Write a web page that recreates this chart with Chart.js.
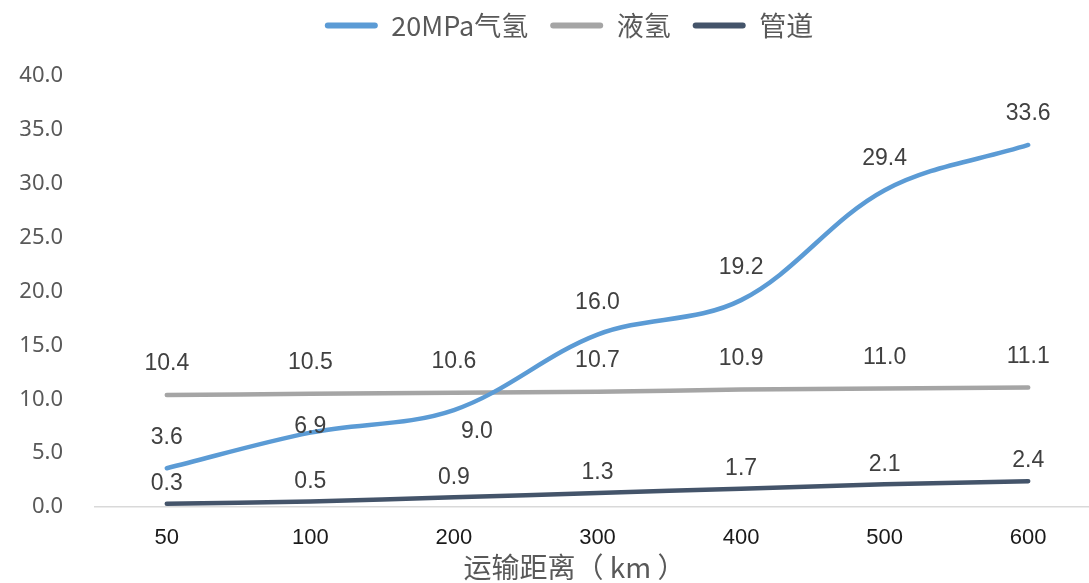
<!DOCTYPE html>
<html>
<head>
<meta charset="utf-8">
<script src="https://cdn.jsdelivr.net/npm/chart.js@4.4.1/dist/chart.umd.min.js"></script>
<style>
  html, body { margin: 0; padding: 0; background: #fff; overflow: hidden; }
  #wrap { width: 1100px; height: 583px; }
</style>
</head>
<body>
<div id="wrap"><canvas id="costChart"></canvas></div>
<script>
// 运输距离 (km)
const distances = ["50", "100", "200", "300", "400", "500", "600"];

// 运输成本 by mode
const gas20MPa = [3.6, 6.9, 9.0, 16.0, 19.2, 29.4, 33.6];
const liquidH2 = [10.4, 10.5, 10.6, 10.7, 10.9, 11.0, 11.1];
const pipeline = [0.3, 0.5, 0.9, 1.3, 1.7, 2.1, 2.4];

const yTicks = [0, 5, 10, 15, 20, 25, 30, 35, 40];
const xTitle = "运输距离（ km ）";

// label nudges relative to each point (px), like hand-moved labels in Excel
const gasLabelShift = [[0, -31], [0, -6], [23, 22], [0, -32], [0, -32], [0, -32], [0, -31]];
const liquidLabelShift = [0, -31];
const pipeLabelShift = [0, -20];

// Draw value labels next to points
const valueLabels = {
  id: "valueLabels",
  afterDatasetsDraw(chart) {
    const ctx = chart.ctx;
    ctx.save();
    ctx.font = "23px 'Liberation Sans', Arial, sans-serif";
    ctx.fillStyle = "#404040";
    ctx.textAlign = "center";
    ctx.textBaseline = "middle";
    chart.data.datasets.forEach((ds, i) => {
      const meta = chart.getDatasetMeta(i);
      meta.data.forEach((pt, j) => {
        const shift = Array.isArray(ds.labelShift[j]) ? ds.labelShift[j] : ds.labelShift;
        ctx.fillText(ds.data[j].toFixed(1), pt.x + shift[0], pt.y + shift[1]);
      });
    });
    ctx.restore();
  },
};

// Axis title sits a bit left of the plot centre in the original
const axisTitle = {
  id: "axisTitle",
  afterDraw(chart) {
    const { ctx, chartArea } = chart;
    ctx.save();
    ctx.font = "28px 'Noto Sans CJK SC', sans-serif";
    ctx.fillStyle = "#595959";
    ctx.textAlign = "center";
    ctx.textBaseline = "middle";
    ctx.fillText(xTitle, (chartArea.left + chartArea.right) / 2 - 23, 567);
    ctx.restore();
  },
};

// Leave room under the legend so the plot starts at the right height,
// and nudge it right to sit over the plot like the original
const legendRoom = {
  id: "legendRoom",
  beforeInit(chart) {
    const fit = chart.legend.fit;
    chart.legend.fit = function () {
      fit.call(this);
      this.height = 86;
    };
  },
  afterLayout(chart) {
    chart.legend.left += 19;
    chart.legend.right += 19;
  },
};

function makeSet(label, data, color, shift) {
  return {
    label,
    data,
    borderColor: color,
    backgroundColor: color,
    borderWidth: 4.5,
    borderCapStyle: "round",
    borderJoinStyle: "round",
    pointRadius: 0,
    pointHoverRadius: 0,
    tension: 0.35,
    fill: false,
    clip: false,
    labelShift: shift,
  };
}

const ctx = document.getElementById("costChart").getContext("2d");
new Chart(ctx, {
  type: "line",
  data: {
    labels: distances,
    datasets: [
      makeSet("20MPa气氢", gas20MPa, "#5B9BD5", gasLabelShift),
      makeSet("液氢", liquidH2, "#A5A5A5", liquidLabelShift),
      makeSet("管道", pipeline, "#44546A", pipeLabelShift),
    ],
  },
  options: {
    responsive: true,
    maintainAspectRatio: false,
    animation: false,
    layout: { padding: { top: -10, left: 0, right: 0, bottom: 0 } },
    plugins: {
      tooltip: { enabled: false },
      legend: {
        position: "top",
        labels: {
          color: "#595959",
          font: { family: "'Noto Sans CJK SC', 'Noto Sans', sans-serif", size: 27 },
          boxWidth: 53,
          boxHeight: 6,
          padding: 22,
          useBorderRadius: true,
          borderRadius: 3,
          generateLabels(chart) {
            const items = Chart.defaults.plugins.legend.labels.generateLabels(chart);
            return items.map((it) => Object.assign(it, { lineWidth: 0 }));
          },
        },
      },
    },
    scales: {
      x: {
        offset: true,
        grid: { display: false, drawTicks: false },
        border: { display: true, color: "#D9D9D9", width: 1.5 },
        ticks: {
          color: "#1a1a1a",
          padding: 18,
          font: { family: "'Liberation Sans', Arial, sans-serif", size: 22 },
        },
        afterFit(scale) {
          scale.height = 76;
        },
      },
      y: {
        min: 0,
        max: 40,
        grid: { display: false, drawTicks: false },
        border: { display: false },
        afterBuildTicks(scale) {
          scale.ticks = yTicks.map((v) => ({ value: v }));
        },
        ticks: {
          color: "#595959",
          padding: 32,
          font: { family: "'Noto Sans', sans-serif", size: 22 },
          callback: (v) => Number(v).toFixed(1),
        },
        afterFit(scale) {
          scale.width = 95;
        },
      },
    },
  },
  plugins: [valueLabels, axisTitle, legendRoom],
});
</script>
</body>
</html>
